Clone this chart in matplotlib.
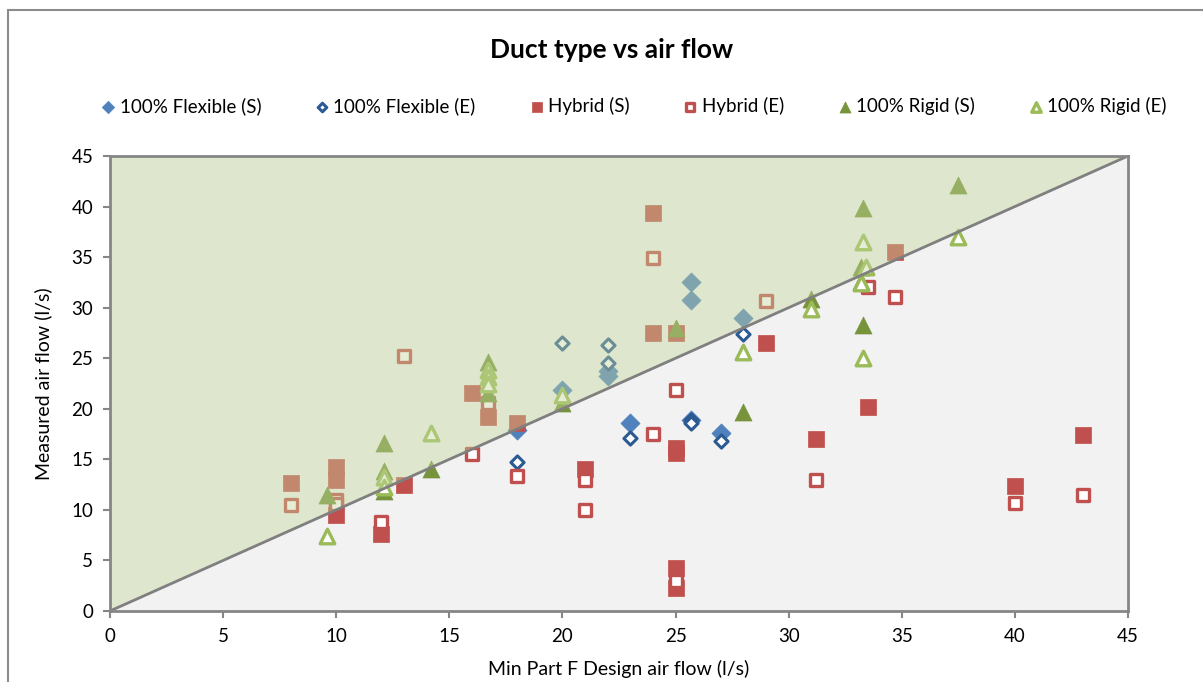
import matplotlib
matplotlib.use("Agg")
import matplotlib.pyplot as plt
from matplotlib.patches import Polygon, Rectangle

plt.rcParams['font.family'] = ['Lato', 'DejaVu Sans']

# 100% Flexible
flex_s_x = [18, 20, 22, 22, 23, 25.7, 25.7, 25.7, 27, 28]
flex_s_y = [17.9, 21.9, 23.7, 23.2, 18.6, 32.5, 30.8, 18.9, 17.6, 29.0]
flex_e_x = [18, 20, 22, 22, 23, 25.7, 25.7, 27, 28]
flex_e_y = [14.7, 26.5, 26.3, 24.5, 17.1, 18.9, 18.6, 16.8, 27.4]

# Hybrid
hyb_s_x = [8, 10, 10, 10, 12, 13, 16, 16.7, 18, 21, 24, 24, 25, 25, 25, 25, 25,
           29, 31.2, 33.5, 34.7, 40, 43]
hyb_s_y = [12.7, 14.2, 13.0, 9.5, 7.6, 12.5, 21.6, 19.2, 18.6, 14.0, 39.4, 27.5, 27.5,
           16.1, 15.6, 4.3, 2.3, 26.5, 17.0, 20.2, 35.5, 12.4, 17.4]
hyb_e_x = [8, 10, 10, 12, 13, 16, 16.7, 18, 21, 21, 24, 24, 25, 25, 29, 31.2, 33.5,
           34.7, 40, 43]
hyb_e_y = [10.5, 11.0, 10.6, 8.8, 25.2, 15.5, 20.6, 13.4, 13.0, 10.0, 34.9, 17.5, 21.9,
           3.0, 30.7, 13.0, 32.0, 31.1, 10.7, 11.5]

# 100% Rigid
rig_s_x = [9.6, 12.1, 12.1, 12.1, 14.2, 16.7, 16.7, 20, 25, 28, 31, 33.3, 33.2, 33.2,
           33.3, 37.5]
rig_s_y = [11.5, 16.6, 13.8, 11.9, 14.0, 24.6, 21.6, 20.6, 28.0, 19.7, 30.9, 39.9, 34.0,
           32.6, 28.3, 42.1]
rig_e_x = [9.6, 12.1, 12.1, 14.2, 16.7, 16.7, 16.7, 20, 28, 31, 33.3, 33.4, 33.2, 33.3,
           37.5]
rig_e_y = [7.4, 13.3, 12.3, 17.6, 23.8, 23.1, 22.5, 21.4, 25.6, 29.9, 36.5, 34.0, 32.4,
           25.0, 37.0]

x_ticks = list(range(0, 46, 5))
y_ticks = list(range(0, 46, 5))

blue = '#4F81BD'
dblue = '#2C5A92'
red = '#C0504D'
dgreen = '#77933C'
lgreen = '#9BBB59'
axis_col = '#868686'

fig = plt.figure(figsize=(12.03, 6.82), dpi=100)
W, H = 1203, 682
ax = fig.add_axes([110 / W, 1 - 611 / H, (1128 - 110) / W, (611 - 156) / H])

# outer chart border
fig.add_artist(Rectangle((8 / W, -0.1), 1.1, 1 - 10 / H + 0.1, transform=fig.transFigure,
                         fill=False, edgecolor='#8C8C8C', linewidth=1.5))

ax.set_facecolor('#F2F2F2')

series = [
    (flex_s_x, flex_s_y, 'D', 95, blue, blue, 0.5, '100% Flexible (S)'),
    (flex_e_x, flex_e_y, 'D', 45, 'white', dblue, 2.2, '100% Flexible (E)'),
    (hyb_s_x, hyb_s_y, 's', 130, red, red, 0.5, 'Hybrid (S)'),
    (hyb_e_x, hyb_e_y, 's', 80, 'white', red, 2.4, 'Hybrid (E)'),
    (rig_s_x, rig_s_y, '^', 150, dgreen, dgreen, 0.5, '100% Rigid (S)'),
    (rig_e_x, rig_e_y, '^', 110, 'white', lgreen, 2.4, '100% Rigid (E)'),
]
handles = []
for xs, ys, m, s, fc, ec, lw, lab in series:
    h = ax.scatter(xs, ys, marker=m, s=s, facecolor=fc, edgecolor=ec,
                   linewidth=lw, label=lab, zorder=3)
    handles.append(h)

# green shaded area above the 1:1 line, laid over the points
ax.add_patch(Polygon([(0, 0), (0, 45), (45, 45)], closed=True,
                     facecolor='#C3D69B', alpha=0.42, edgecolor='none', zorder=4))
ax.plot([0, 45], [0, 45], color='#7F7F7F', linewidth=2, zorder=5)

ax.set_xlim(0, 45)
ax.set_ylim(0, 45)
ax.set_xticks(x_ticks)
ax.set_yticks(y_ticks)
ax.tick_params(direction='out', length=5, width=1.5, color=axis_col,
               labelsize=13.5, pad=7)
for sp in ax.spines.values():
    sp.set_color(axis_col)
    sp.set_linewidth(2)
    sp.set_zorder(6)

ax.set_xlabel('Min Part F Design air flow (l/s)', fontsize=14, labelpad=11)
ax.set_ylabel('Measured air flow (l/s)', fontsize=14, labelpad=14)

fig.text(0.508, 1 - 50 / H, 'Duct type vs air flow', ha='center', va='center',
         fontsize=19, fontweight='bold')

leg = fig.legend(handles=handles, loc='center', bbox_to_anchor=(0.526, 1 - 106 / H),
                 ncol=6, frameon=False, fontsize=13.5, handletextpad=0.1,
                 columnspacing=2.75, handlelength=1.0, markerscale=0.65)
leg.set_zorder(10)

fig.savefig('out.png', dpi=100)
